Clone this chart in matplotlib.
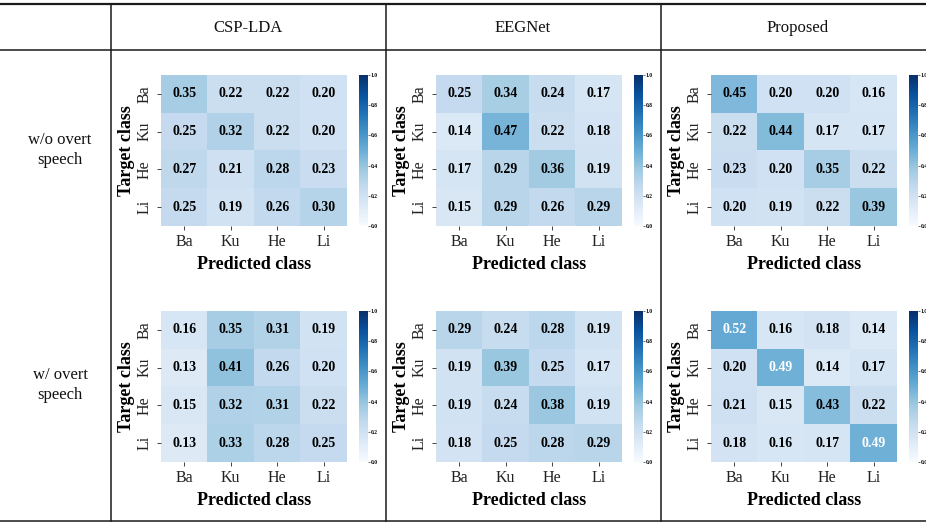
import numpy as np
import matplotlib
matplotlib.use("Agg")
import matplotlib.pyplot as plt
from matplotlib.lines import Line2D

plt.rcParams['font.family'] = ['Liberation Serif', 'DejaVu Serif']

classes = ["Ba", "Ku", "He", "Li"]
methods = ["CSP-LDA", "EEGNet", "Proposed"]
conditions = ["w/o overt\nspeech", "w/ overt\nspeech"]

# w/o overt speech
csp_wo = [[0.35, 0.22, 0.22, 0.20],
          [0.25, 0.32, 0.22, 0.20],
          [0.27, 0.21, 0.28, 0.23],
          [0.25, 0.19, 0.26, 0.30]]
eeg_wo = [[0.25, 0.34, 0.24, 0.17],
          [0.14, 0.47, 0.22, 0.18],
          [0.17, 0.29, 0.36, 0.19],
          [0.15, 0.29, 0.26, 0.29]]
prop_wo = [[0.45, 0.20, 0.20, 0.16],
           [0.22, 0.44, 0.17, 0.17],
           [0.23, 0.20, 0.35, 0.22],
           [0.20, 0.19, 0.22, 0.39]]
# w/ overt speech
csp_w = [[0.16, 0.35, 0.31, 0.19],
         [0.13, 0.41, 0.26, 0.20],
         [0.15, 0.32, 0.31, 0.22],
         [0.13, 0.33, 0.28, 0.25]]
eeg_w = [[0.29, 0.24, 0.28, 0.19],
         [0.19, 0.39, 0.25, 0.17],
         [0.19, 0.24, 0.38, 0.19],
         [0.18, 0.25, 0.28, 0.29]]
prop_w = [[0.52, 0.16, 0.18, 0.14],
          [0.20, 0.49, 0.14, 0.17],
          [0.21, 0.15, 0.43, 0.22],
          [0.18, 0.16, 0.17, 0.49]]

all_mats = [[csp_wo, eeg_wo, prop_wo], [csp_w, eeg_w, prop_w]]

W, H = 926, 523
fig = plt.figure(figsize=(W / 100, H / 100), dpi=100)
fig.patch.set_facecolor("white")

def rect(x0, y0, w, h):
    # pixel box (top-left origin) -> figure fraction
    return [x0 / W, 1 - (y0 + h) / H, w / W, h / H]

def hline(y, x0, x1, lw):
    fig.add_artist(Line2D([x0 / W, x1 / W], [1 - y / H, 1 - y / H], color="#1a1a1a", lw=lw, transform=fig.transFigure))

def vline(x, y0, y1, lw):
    fig.add_artist(Line2D([x / W, x / W], [1 - y0 / H, 1 - y1 / H], color="#1a1a1a", lw=lw, transform=fig.transFigure))

# table lines
hline(4, 0, W, 1.6)
hline(50, 0, W, 1.1)
hline(521, 0, W, 1.1)
for xv in [111, 386, 661]:
    vline(xv, 4, 521, 1.1)

col_left = [111, 386, 661]
for j, m in enumerate(methods):
    fig.text((col_left[j] + 137) / W, 1 - 28 / H, m, ha="center", va="center", fontsize=12, color="#111111")

row_center = [150, 385]
for i, c in enumerate(conditions):
    fig.text(60 / W, 1 - row_center[i] / H, c, ha="center", va="center", fontsize=12, color="#111111", linespacing=1.3)

cmap = plt.get_cmap("Blues")
heat_top = [75, 311]
heat_left = [161, 436, 711]
hw, hh = 186, 151

for i in range(2):
    for j in range(3):
        mat = np.array(all_mats[i][j])
        ax = fig.add_axes(rect(heat_left[j], heat_top[i], hw, hh))
        im = ax.imshow(mat, cmap=cmap, vmin=0, vmax=1, aspect="auto", interpolation="nearest")
        for r in range(4):
            for k in range(4):
                v = mat[r, k]
                tc = "white" if v > 0.48 else "black"
                ax.text(k, r, "%.2f" % v, ha="center", va="center", fontsize=10, fontweight="bold", color=tc)
        ax.set_xticks(range(4))
        ax.set_yticks(range(4))
        ax.set_xticklabels(classes, fontsize=11.5)
        ax.set_yticklabels(classes, fontsize=11.5, rotation=90, va="center")
        ax.tick_params(length=3, width=0.6, pad=3, colors="#222222")
        for s in ax.spines.values():
            s.set_visible(False)
        ax.set_xlabel("Predicted class", fontsize=13, fontweight="bold", labelpad=4)
        ax.set_ylabel("Target class", fontsize=13, fontweight="bold", labelpad=1)

        cax = fig.add_axes(rect(heat_left[j] + 198, heat_top[i], 9, hh))
        cb = fig.colorbar(im, cax=cax)
        cb.outline.set_visible(False)
        cb.set_ticks([0.0, 0.2, 0.4, 0.6, 0.8, 1.0])
        cb.set_ticklabels(["0.0", "0.2", "0.4", "0.6", "0.8", "1.0"])
        cax.tick_params(labelsize=4, length=1.5, width=0.4, pad=0.5)
        for lab in cax.get_yticklabels():
            lab.set_fontweight("bold")

fig.savefig("out.png", dpi=100)
